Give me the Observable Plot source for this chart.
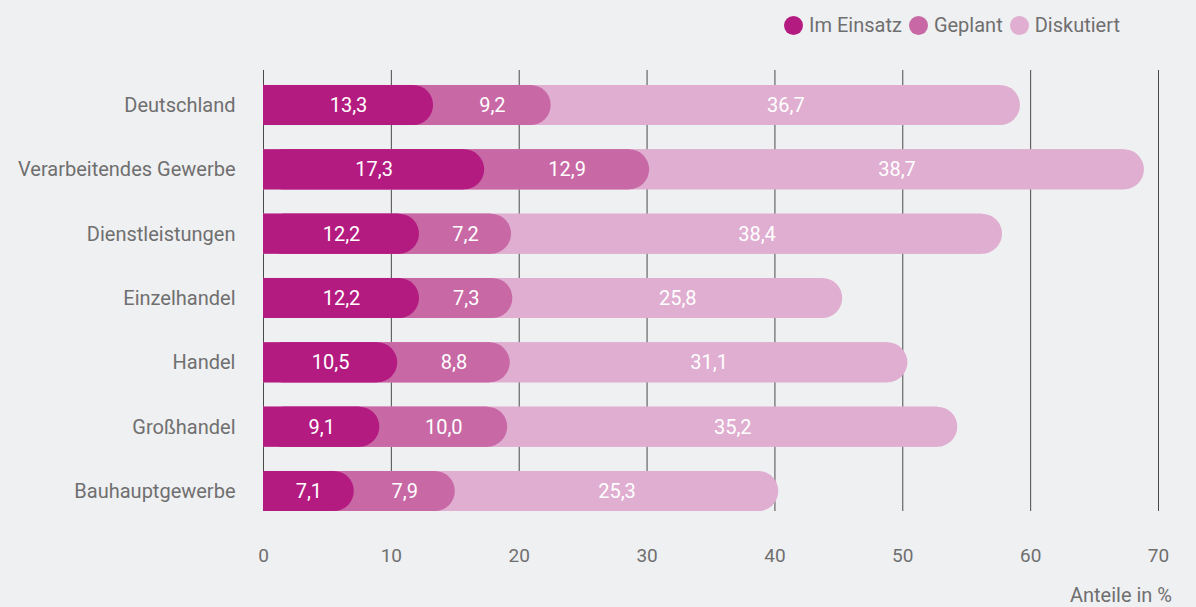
<!DOCTYPE html>
<html>
<head>
<meta charset="utf-8">
<script src="https://cdn.jsdelivr.net/npm/d3@7"></script>
<script src="https://cdn.jsdelivr.net/npm/@observablehq/plot@0.6"></script>
<style>
  html, body { margin: 0; padding: 0; background: #eff0f2; }
  body { width: 1196px; height: 607px; position: relative; overflow: hidden; font-family: Roboto, "Open Sans", sans-serif; color: #6f6f6f; }
  #legend { position: absolute; top: 13px; left: 784px; display: flex; align-items: center; font-size: 20px; }
  #legend .item { display: flex; align-items: center; margin-right: 7px; }
  #legend .dot { width: 19px; height: 19px; border-radius: 50%; margin-right: 6px; }
  #xlabel { position: absolute; right: 24px; top: 583px; font-size: 20px; }
  #chart { position: absolute; top: 0; left: 0; }
</style>
</head>
<body>
<div id="legend"></div>
<div id="chart"></div>
<div id="xlabel">Anteile in %</div>
<script>
const categories = ["Deutschland", "Verarbeitendes Gewerbe", "Dienstleistungen", "Einzelhandel", "Handel", "Großhandel", "Bauhauptgewerbe"];
const seriesNames = ["Im Einsatz", "Geplant", "Diskutiert"];
const imEinsatz = [13.3, 17.3, 12.2, 12.2, 10.5, 9.1, 7.1];
const geplant = [9.2, 12.9, 7.2, 7.3, 8.8, 10.0, 7.9];
const diskutiert = [36.7, 38.7, 38.4, 25.8, 31.1, 35.2, 25.3];
const xTicks = [0, 10, 20, 30, 40, 50, 60, 70];
const colors = ["#b41b80", "#c869a6", "#dfaed1"];

const seriesValues = [imEinsatz, geplant, diskutiert];
const rows = [];
categories.forEach((c, i) => {
  let start = 0;
  seriesValues.forEach((vals, s) => {
    const v = vals[i];
    rows.push({category: c, series: seriesNames[s], order: s, value: v, start, end: start + v, mid: start + v / 2});
    start += v;
  });
});
// draw the longest (last) series first so the rounded caps overlap
const drawOrder = [2, 1, 0];
const fmt = v => v.toFixed(1).replace(".", ",");

const barMarks = [];
drawOrder.forEach(s => {
  const d = rows.filter(r => r.order === s);
  barMarks.push(Plot.barX(d, {y: "category", x1: () => 0, x2: "end", fill: colors[s], rx: 20}));
  barMarks.push(Plot.barX(d, {y: "category", x1: () => 0, x2: "end", fill: colors[s], insetRight: 20}));
});

const chart = Plot.plot({
  width: 1196,
  height: 607,
  marginTop: 70,
  marginBottom: 96,
  marginLeft: 263,
  marginRight: 38,
  style: {background: "transparent", fontFamily: "Roboto, 'Open Sans', sans-serif", fontSize: "20px", color: "#6f6f6f"},
  x: {domain: [0, 70]},
  y: {domain: categories, paddingInner: 0.378, paddingOuter: 0.1165, align: 1, round: false},
  marks: [
    Plot.gridX(xTicks, {stroke: "#4a4a4a", strokeOpacity: 1, strokeWidth: 1}),
    Plot.axisX(xTicks, {tickSize: 0, tickPadding: 37, label: null, fontSize: 19, fill: "#6f6f6f"}),
    Plot.axisY({tickSize: 0, tickPadding: 28, label: null, fontSize: 20, fill: "#6f6f6f"}),
    ...barMarks,
    Plot.text(rows, {y: "category", x: "mid", text: d => fmt(d.value), fill: "white", fontSize: 20})
  ]
});
document.getElementById("chart").appendChild(chart);

const legend = document.getElementById("legend");
seriesNames.forEach((n, i) => {
  const item = document.createElement("div");
  item.className = "item";
  item.innerHTML = `<span class="dot" style="background:${colors[i]}"></span><span>${n}</span>`;
  legend.appendChild(item);
});
</script>
</body>
</html>
